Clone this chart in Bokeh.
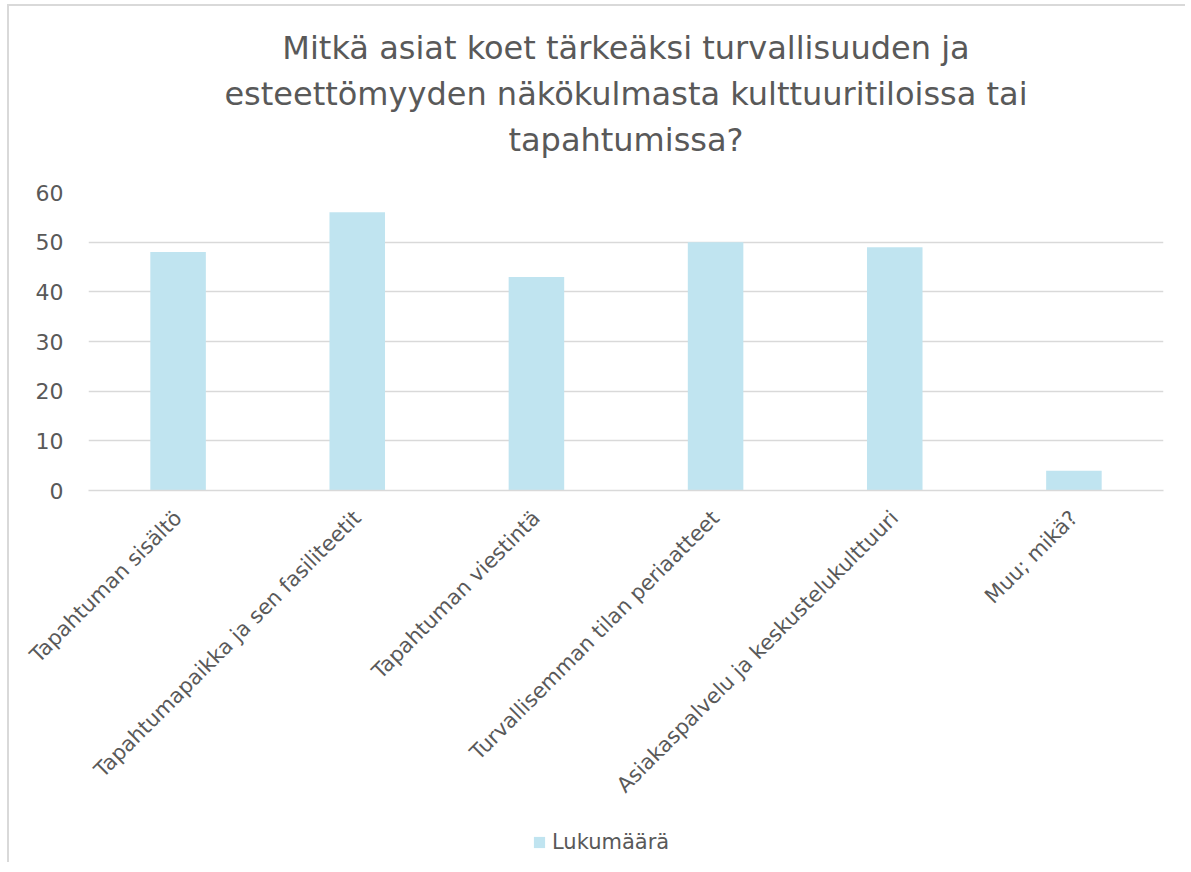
import math
from bokeh.plotting import figure
from bokeh.layouts import column
from bokeh.models import ColumnDataSource, Legend, LegendItem, FactorRange, Range1d, FixedTicker, Title
from bokeh.embed import file_html
from bokeh.resources import INLINE

title_lines = ["Mitkä asiat koet tärkeäksi turvallisuuden ja",
               "esteettömyyden näkökulmasta kulttuuritiloissa tai",
               "tapahtumissa?"]
categories = ["Tapahtuman sisältö", "Tapahtumapaikka ja sen fasiliteetit",
              "Tapahtuman viestintä", "Turvallisemman tilan periaatteet",
              "Asiakaspalvelu ja keskustelukulttuuri", "Muu; mikä?"]
values = [48, 56, 43, 50, 49, 4]
y_ticks = [0, 10, 20, 30, 40, 50, 60]
series_name = "Lukumäärä"

TEXT = "#595959"
GRID = "#D9D9D9"
BAR = "#C0E4F0"
FONT = "DejaVu Sans"

W, H_MAIN, H_LEG = 1185, 822, 40
p = figure(x_range=FactorRange(*categories, range_padding=0),
           y_range=Range1d(0, 60),
           width=W, height=H_MAIN,
           output_backend="svg", toolbar_location=None,
           min_border_left=88, min_border_right=W - 1163,
           min_border_top=192, min_border_bottom=H_MAIN - 490)
p.border_fill_color = None
p.background_fill_color = "white"
p.styles = {"background": "linear-gradient(#D9D9D9,#D9D9D9) 7px 4px / 2px 100% no-repeat, "
                          "linear-gradient(#D9D9D9,#D9D9D9) 7px 4px / 100% 2px no-repeat, white"}

# spacer between the frame and the title block, then the title lines
# (side panel items stack outward from the frame)
p.add_layout(Title(text=" ", text_font_size="1px", standoff=28), "above")
for line in reversed(title_lines):
    p.add_layout(Title(text=line, align="center", text_font=FONT, text_font_size="32px",
                       text_font_style="normal", text_color=TEXT, standoff=6), "above")

src = ColumnDataSource(dict(x=categories, top=values))
r = p.vbar(x="x", top="top", width=0.31, source=src, fill_color=BAR, line_color=None)

p.outline_line_color = None
p.xgrid.grid_line_color = None
p.ygrid.grid_line_color = GRID
p.ygrid.grid_line_width = 1.5
p.yaxis.ticker = FixedTicker(ticks=y_ticks)

p.yaxis.axis_line_color = None
p.yaxis.major_tick_line_color = None
p.yaxis.minor_tick_line_color = None
p.yaxis.major_tick_out = 0
p.yaxis.major_label_standoff = 25
p.yaxis.major_label_text_font = FONT
p.yaxis.major_label_text_font_size = "22px"
p.yaxis.major_label_text_color = TEXT

p.xaxis.axis_line_color = GRID
p.xaxis.axis_line_width = 1.5
p.xaxis.major_tick_line_color = None
p.xaxis.major_tick_out = 0
p.xaxis.major_label_orientation = math.pi / 4
p.xaxis.major_label_standoff = 24
p.xaxis.major_label_text_font = FONT
p.xaxis.major_label_text_font_size = "21px"
p.xaxis.major_label_text_color = TEXT

# legend strip underneath the chart (its frame is aligned with the main frame)
leg = figure(x_range=FactorRange(*categories, range_padding=0), y_range=Range1d(0, 1),
             width=W, height=H_LEG,
             output_backend="svg", toolbar_location=None,
             min_border_left=88, min_border_right=W - 1163, min_border_top=0, min_border_bottom=0)
leg.axis.visible = False
leg.grid.visible = False
leg.outline_line_color = None
leg.border_fill_color = None
leg.background_fill_color = None
leg.styles = {"background": "linear-gradient(#D9D9D9,#D9D9D9) 7px 0 / 2px 100% no-repeat, white"}
swatch = leg.vbar(x="x", top="top", width=0.31, source=src, fill_color=BAR, line_color=None,
                  visible=False)
legend = Legend(items=[LegendItem(label=series_name, renderers=[swatch])],
                orientation="horizontal", location=(532 - 88, 8),
                label_text_font=FONT, label_text_font_size="21px",
                label_text_color=TEXT, glyph_width=14, glyph_height=14,
                border_line_color=None, background_fill_alpha=0,
                inactive_fill_alpha=0,
                label_standoff=6, padding=4, margin=0)
leg.add_layout(legend, "center")

layout = column(p, leg, spacing=0)
open("out.html", "w").write(file_html(layout, INLINE))
